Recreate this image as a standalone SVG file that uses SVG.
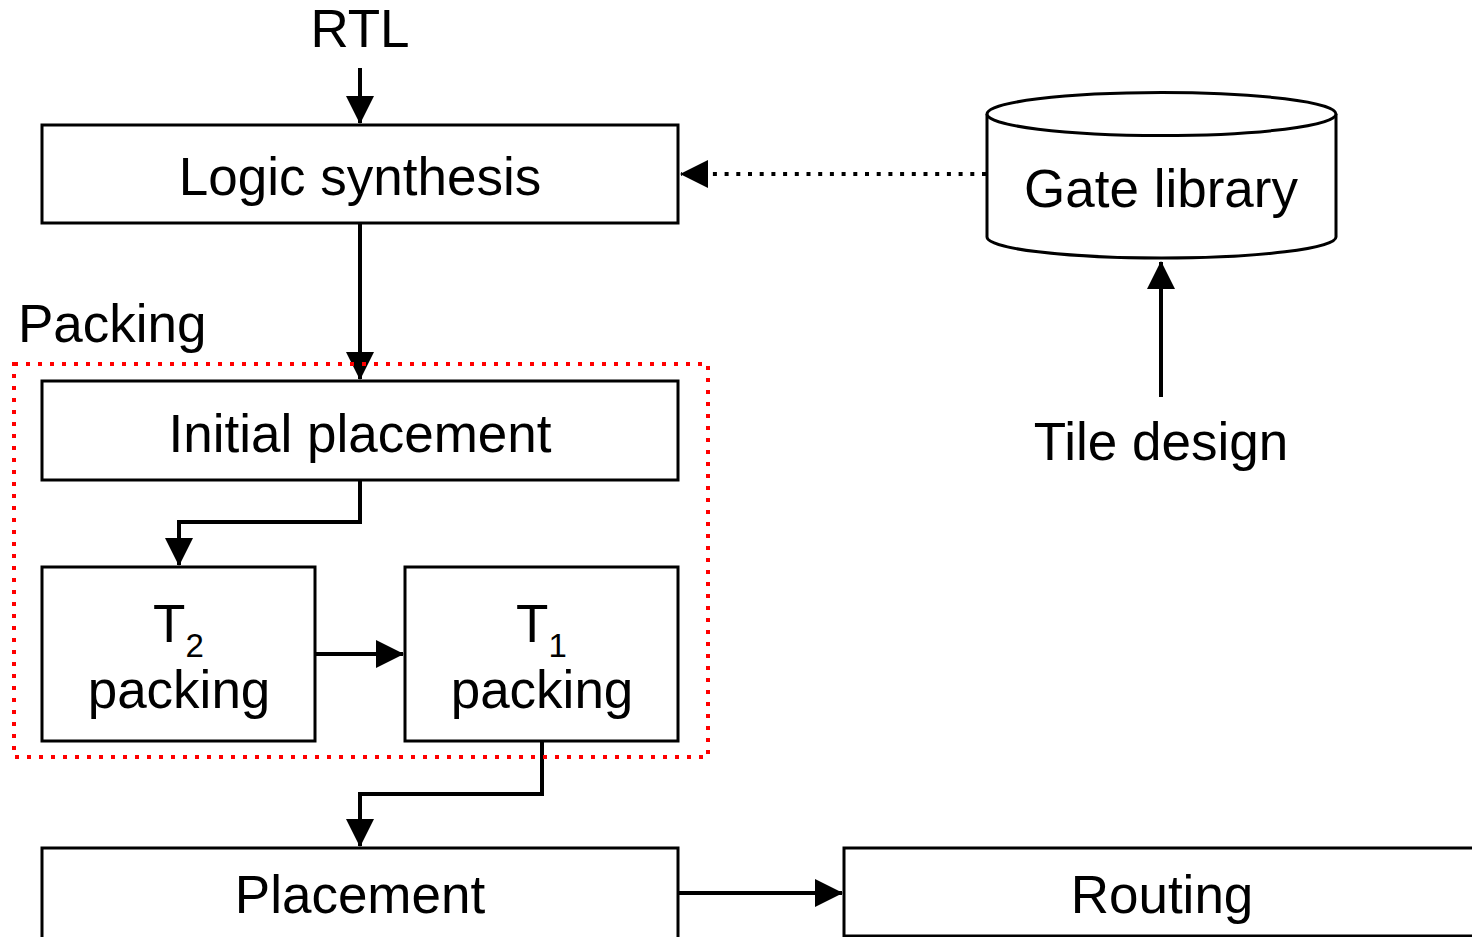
<svg xmlns="http://www.w3.org/2000/svg" width="1472" height="937" viewBox="0 0 1472 937">
<defs>
<marker id="ah" viewBox="0 0 28 28" refX="27" refY="14" markerWidth="28" markerHeight="28" markerUnits="userSpaceOnUse" orient="auto">
<path d="M0,0 L28,14 L0,28 z" fill="#000"/>
</marker>
</defs>
<style>
.box{fill:#fff;stroke:#000;stroke-width:3}
.t{font-family:"Liberation Sans",Arial,sans-serif;font-size:53px;fill:#000;text-anchor:middle}
.ts{font-family:"Liberation Sans",Arial,sans-serif;font-size:53px;fill:#000;text-anchor:start}
.sub{font-size:33px}
.c{fill:none;stroke:#000;stroke-width:4}
</style>
<rect width="1472" height="937" fill="#fff"/>
<g id="connectors">
<path class="c" d="M360,68 V123" marker-end="url(#ah)"/>
<path class="c" d="M360,223 V379" marker-end="url(#ah)"/>
<path class="c" d="M360,480 V522 H179 V565" marker-end="url(#ah)"/>
<path class="c" d="M315,654 H403" marker-end="url(#ah)"/>
<path class="c" d="M542,741 V794 H360 V846" marker-end="url(#ah)"/>
<path class="c" d="M678,893 H842" marker-end="url(#ah)"/>
<path class="c" d="M986,174 H681" stroke-dasharray="4 7.7" marker-end="url(#ah)"/>
<path class="c" d="M1161,397 V262" marker-end="url(#ah)"/>
</g>
<g id="packing-group">
<rect x="14" y="364" width="694" height="393" fill="none" stroke="#f00" stroke-width="4" stroke-dasharray="4 8"/>
<text class="ts" x="18" y="342">Packing</text>
</g>
<g id="rtl"><text class="t" x="360" y="47">RTL</text></g>
<g id="logic-synthesis">
<rect class="box" x="42" y="125" width="636" height="98"/>
<text class="t" x="360" y="195">Logic synthesis</text>
</g>
<g id="initial-placement">
<rect class="box" x="42" y="381" width="636" height="99"/>
<text class="t" x="360" y="452">Initial placement</text>
</g>
<g id="t2-packing">
<rect class="box" x="42" y="567" width="273" height="174"/>
<text class="ts" x="153" y="642">T<tspan class="sub" dy="15">2</tspan></text>
<text class="t" x="179" y="708">packing</text>
</g>
<g id="t1-packing">
<rect class="box" x="405" y="567" width="273" height="174"/>
<text class="ts" x="516" y="642">T<tspan class="sub" dy="15">1</tspan></text>
<text class="t" x="542" y="708">packing</text>
</g>
<g id="placement">
<rect class="box" x="42" y="848" width="636" height="110"/>
<text class="t" x="360" y="913">Placement</text>
</g>
<g id="routing">
<rect class="box" x="844" y="848" width="700" height="88"/>
<text class="t" x="1162" y="913">Routing</text>
</g>
<g id="gate-library">
<path class="box" d="M987,114 V237 A174.5,21 0 0 0 1336,237 V114"/>
<ellipse class="box" cx="1161.5" cy="114" rx="174.5" ry="21.5"/>
<text class="t" x="1161" y="207">Gate library</text>
</g>
<g id="tile-design"><text class="t" x="1161" y="460">Tile design</text></g>
</svg>
